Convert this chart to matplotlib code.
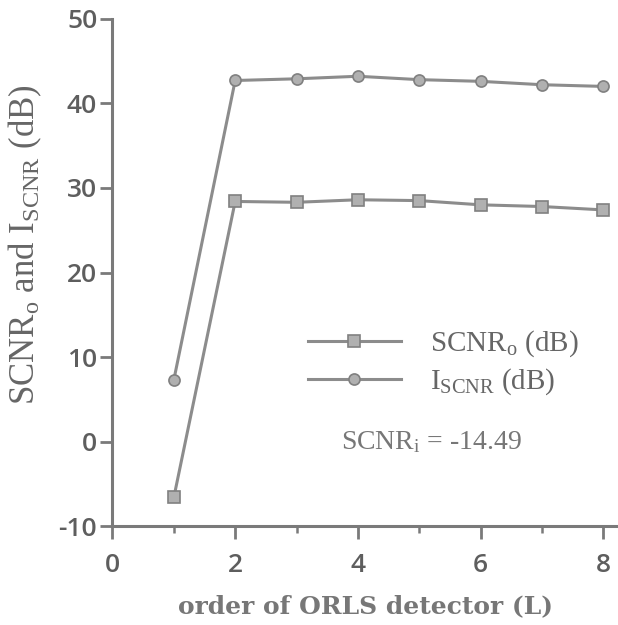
import numpy as np
import matplotlib.pyplot as plt

# order of detector and output values
order = [1, 2, 3, 4, 5, 6, 7, 8]
scnr_o = [-6.6, 28.4, 28.3, 28.6, 28.5, 28.0, 27.8, 27.4]
i_scnr = [7.3, 42.7, 42.9, 43.2, 42.8, 42.6, 42.2, 42.0]
scnr_i = -14.49

plt.rcParams['mathtext.fontset'] = 'custom'
plt.rcParams['mathtext.rm'] = 'Liberation Serif'
plt.rcParams['mathtext.it'] = 'Liberation Serif:italic'
plt.rcParams['axes.unicode_minus'] = False

line_c = '#8c8c8c'
text_c = '#666666'

fig = plt.figure(figsize=(6.18, 6.25), dpi=100)
ax = fig.add_axes([0.182, 0.158, 0.818, 0.812])

ax.plot(order, scnr_o, color=line_c, lw=2.2, marker='s', ms=8,
        mfc='#b0b0b0', mec='#808080', mew=1.2, label='SCNR$_{\\mathrm{o}}$ (dB)')
ax.plot(order, i_scnr, color=line_c, lw=2.2, marker='o', ms=8,
        mfc='#b0b0b0', mec='#808080', mew=1.2, label='I$_{\\mathrm{SCNR}}$ (dB)')

ax.set_xlim(0, 8.24)
ax.set_ylim(-10, 50)
ax.set_xticks([0, 2, 4, 6, 8])
ax.set_xticks([1, 3, 5, 7], minor=True)
ax.set_yticks(np.arange(-10, 51, 10))

for s in ['top', 'right']:
    ax.spines[s].set_visible(False)
for s in ['left', 'bottom']:
    ax.spines[s].set_color('#7a7a7a')
    ax.spines[s].set_linewidth(2.2)

ax.tick_params(axis='both', which='major', colors='#7a7a7a', labelcolor='#5e5e5e',
               width=2, length=9, labelsize=19)
ax.tick_params(axis='x', which='minor', colors='#7a7a7a', width=1.8, length=5)
ax.tick_params(axis='x', pad=10)
ax.tick_params(axis='y', pad=2)
for lab in ax.get_xticklabels() + ax.get_yticklabels():
    lab.set_family('Open Sans')
    lab.set_fontweight('semibold')

ax.set_xlabel('order of ORLS detector (L)', fontsize=18, fontweight='bold',
              family='DejaVu Serif', color='#777777', labelpad=12)
ax.set_ylabel('SCNR$_{\\mathrm{o}}$ and I$_{\\mathrm{SCNR}}$ (dB)', fontsize=25,
              family='Liberation Serif', color=text_c)
ax.yaxis.set_label_coords(-0.135, 0.555)

leg = ax.legend(loc='upper left', bbox_to_anchor=(0.357, 0.418), frameon=False,
                numpoints=1, handlelength=3.2, handletextpad=1.0,
                labelspacing=0.25, borderpad=0,
                prop={'family': 'Liberation Serif', 'size': 21})
for t in leg.get_texts():
    t.set_color(text_c)

ax.text(3.72, 0, 'SCNR$_{\\mathrm{i}}$ = -14.49', fontsize=20,
        family='Liberation Serif', color='#777777', va='center')

fig.savefig('out.png', dpi=100)
